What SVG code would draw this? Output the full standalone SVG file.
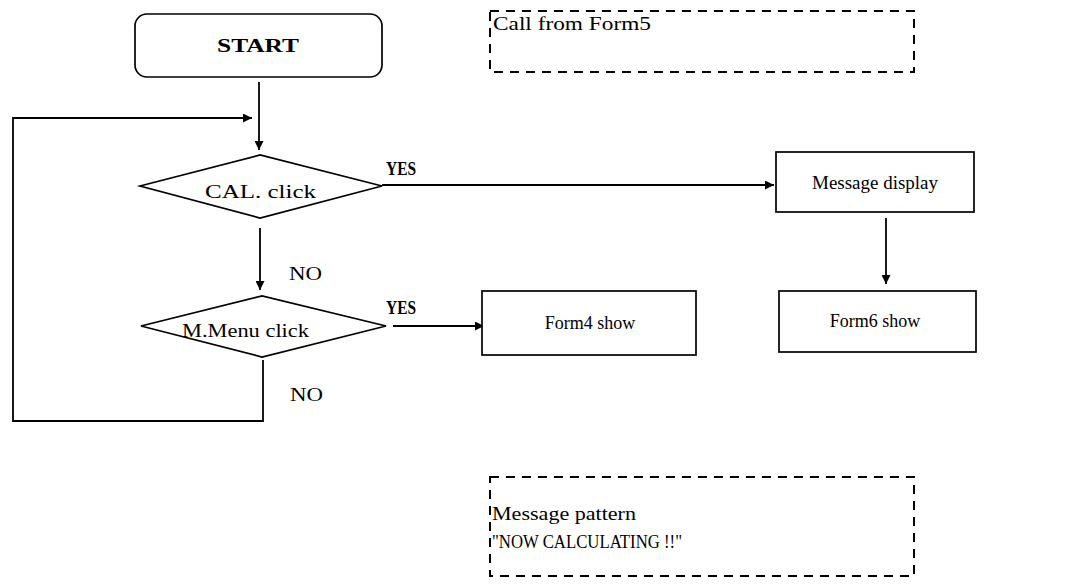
<svg xmlns="http://www.w3.org/2000/svg" width="1086" height="587" viewBox="0 0 1086 587">
<style>
.s{fill:#fff;stroke:#000;stroke-width:1.7}
.d{fill:none;stroke:#000;stroke-width:2;stroke-dasharray:9,7}
.c{fill:none;stroke:#000;stroke-width:1.8}
text{font-family:"Liberation Serif","Times New Roman",serif;font-size:18px;fill:#000}
.b{font-weight:bold}
.m{text-anchor:middle}
</style>
<defs>
<marker id="a" viewBox="0 0 10 10" refX="10" refY="5" markerWidth="5" markerHeight="5" orient="auto" markerUnits="strokeWidth">
<path d="M0,0 L10,5 L0,10 z" fill="#000"/>
</marker>
</defs>
<rect width="1086" height="587" fill="#fff"/>
<g id="connectors">
<path class="c" d="M259,82 V150" marker-end="url(#a)"/>
<path class="c" d="M263,360 V421 H13 V118 H252" marker-end="url(#a)"/>
<path class="c" d="M382,185 H774" marker-end="url(#a)"/>
<path class="c" d="M886,218 V284" marker-end="url(#a)"/>
<path class="c" d="M260,228 V290" marker-end="url(#a)"/>
<path class="c" d="M393,326 H484" marker-end="url(#a)"/>
<text class="b" x="386" y="175" textLength="30" lengthAdjust="spacingAndGlyphs">YES</text>
<text class="b" x="386" y="314" textLength="30" lengthAdjust="spacingAndGlyphs">YES</text>
<text x="289" y="280" textLength="33" lengthAdjust="spacingAndGlyphs">NO</text>
<text x="290" y="401" textLength="33" lengthAdjust="spacingAndGlyphs">NO</text>
</g>
<g id="start">
<rect class="s" x="135" y="14" width="247" height="63" rx="12"/>
<text class="b" x="217" y="52" font-size="22" textLength="82" lengthAdjust="spacingAndGlyphs">START</text>
</g>
<g id="note1">
<rect class="d" x="490" y="11" width="424" height="61"/>
<text x="493" y="30" font-size="19" textLength="158" lengthAdjust="spacingAndGlyphs">Call  from Form5</text>
</g>
<g id="cal">
<polygon class="s" points="140,186 260,155 382,186 260,218"/>
<text x="205" y="198" font-size="22" textLength="111" lengthAdjust="spacingAndGlyphs">CAL. click</text>
</g>
<g id="menu">
<polygon class="s" points="141,326 262,296 386,326 262,357"/>
<text x="182" y="337" font-size="21" textLength="127" lengthAdjust="spacingAndGlyphs">M.Menu click</text>
</g>
<g id="msg">
<rect class="s" x="776" y="152" width="198" height="60"/>
<text x="812" y="189" textLength="126" lengthAdjust="spacingAndGlyphs">Message display</text>
</g>
<g id="form6">
<rect class="s" x="779" y="291" width="197" height="61"/>
<text class="m" x="875" y="327" font-size="17">Form6 show</text>
</g>
<g id="form4">
<rect class="s" x="482" y="291" width="214" height="64"/>
<text class="m" x="590" y="329" font-size="17">Form4 show</text>
</g>
<g id="note2">
<rect class="d" x="490" y="477" width="424" height="99"/>
<text x="492" y="520" textLength="144" lengthAdjust="spacingAndGlyphs">Message pattern</text>
<text x="492" y="548" font-size="18" textLength="190" lengthAdjust="spacingAndGlyphs">"NOW CALCULATING !!"</text>
</g>
</svg>
